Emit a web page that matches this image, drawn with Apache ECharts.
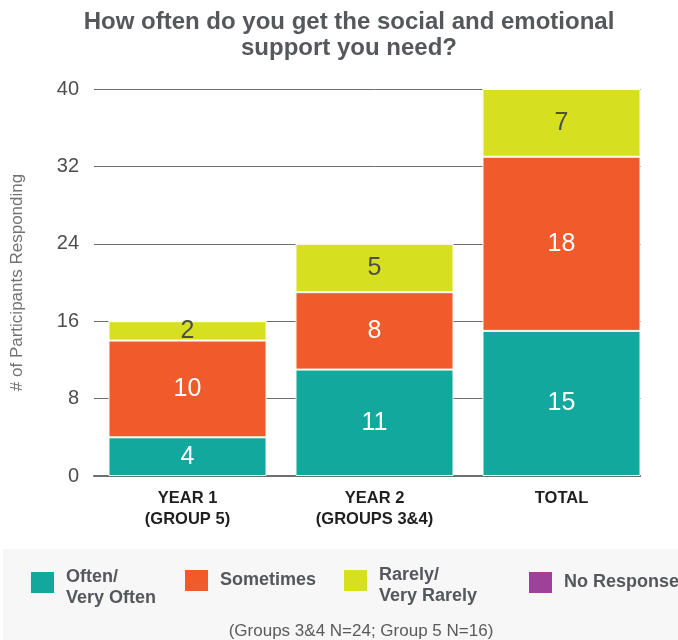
<!DOCTYPE html>
<html>
<head>
<meta charset="utf-8">
<script src="https://cdn.jsdelivr.net/npm/echarts@6/dist/echarts.min.js"></script>
<style>
  html, body { margin: 0; padding: 0; background: #ffffff; }
  #chart { width: 678px; height: 640px; }
</style>
</head>
<body>
<div id="chart"></div>
<script>
// Survey responses: how often participants get the support they need
const categories = ['YEAR 1\n(GROUP 5)', 'YEAR 2\n(GROUPS 3&4)', 'TOTAL'];
const oftenValues = [4, 11, 15];
const sometimesValues = [10, 8, 18];
const rarelyValues = [2, 5, 7];
const noResponseValues = [0, 0, 0];
const yTicks = [0, 8, 16, 24, 32, 40];

const FONT = 'Liberation Sans';
const TEXT_DARK = '#55575b';

const seriesDefs = [
  { name: 'Often/\nVery Often', data: oftenValues, color: '#13a89e', labelColor: '#ffffff' },
  { name: 'Sometimes', data: sometimesValues, color: '#f15a2b', labelColor: '#ffffff' },
  { name: 'Rarely/\nVery Rarely', data: rarelyValues, color: '#d7df21', labelColor: '#4d4d4f' },
  { name: 'No Response', data: noResponseValues, color: '#9e4199', labelColor: '#ffffff' }
];

// Two-line legend entries keep their swatch level with the first line:
// the swatch sits in the top 21px of a 31px-tall icon box.
const SWATCH_TALL = 'path://M0,0L23,0L23,21L0,21Z M0,31L23,31';
const SWATCH = 'rect';
const legendLefts = [31, 185, 344, 529];
const legendTops = [566.5, 570, 564.5, 572];
const legendIcons = [SWATCH_TALL, SWATCH, SWATCH_TALL, SWATCH];
const legendIconHeights = [31, 21, 31, 21];

const chart = echarts.init(document.getElementById('chart'), null, { renderer: 'canvas' });

chart.setOption({
  animation: false,
  backgroundColor: '#ffffff',
  title: [
    {
      text: 'How often do you get the social and emotional\nsupport you need?',
      left: 344,
      textAlign: 'center',
      top: 4,
      textStyle: { fontFamily: FONT, fontSize: 24, fontWeight: 'bold', color: TEXT_DARK, lineHeight: 26 }
    },
    {
      text: '(Groups 3&4 N=24; Group 5 N=16)',
      left: 356,
      textAlign: 'center',
      top: 618,
      textStyle: { fontFamily: FONT, fontSize: 17, fontWeight: 'normal', color: '#5a5a5c' }
    }
  ],
  graphic: [
    // grey band behind the legend and footnote
    {
      type: 'rect',
      z: -10,
      shape: { x: 3, y: 549, width: 675, height: 91 },
      style: { fill: '#f7f7f7' }
    },
    // gridlines and baseline stop at the right edge of the last bar
    {
      type: 'rect',
      z: 100,
      shape: { x: 641, y: 80, width: 37, height: 402 },
      style: { fill: '#ffffff' }
    }
  ],
  legend: seriesDefs.map((s, i) => ({
    data: [s.name],
    left: legendLefts[i],
    top: legendTops[i],
    padding: 0,
    icon: legendIcons[i],
    itemWidth: 23,
    itemHeight: legendIconHeights[i],
    itemGap: 0,
    selectedMode: false,
    itemStyle: { borderWidth: 0 },
    textStyle: {
      fontFamily: FONT, fontSize: 18, fontWeight: 'bold', color: TEXT_DARK,
      lineHeight: 21, padding: [0, 0, 0, 7]
    }
  })),
  grid: { left: 94, right: 23, top: 89, bottom: 164 },
  xAxis: {
    type: 'category',
    data: categories,
    axisLine: { lineStyle: { color: '#6d6e71', width: 2 } },
    axisTick: { show: false },
    axisLabel: {
      fontFamily: FONT, fontSize: 16.5, fontWeight: 'bold', color: '#1f1f1f',
      lineHeight: 21, margin: 12
    }
  },
  yAxis: {
    type: 'value',
    min: yTicks[0],
    max: yTicks[yTicks.length - 1],
    interval: 8,
    name: '# of Participants Responding',
    nameLocation: 'middle',
    nameRotate: 90,
    nameGap: 68,
    nameTextStyle: { fontFamily: FONT, fontSize: 17, color: '#707174' },
    axisLine: { show: false },
    axisTick: { show: false },
    axisLabel: { fontFamily: FONT, fontSize: 20, color: '#4d4d4f', margin: 15 },
    splitLine: { lineStyle: { color: '#6d6e71', width: 1 } }
  },
  series: seriesDefs.map(s => ({
    name: s.name,
    type: 'bar',
    stack: 'total',
    barWidth: 158,
    data: s.data,
    itemStyle: { color: s.color, borderColor: '#fbfbf0', borderWidth: 1 },
    label: {
      show: true,
      position: 'inside',
      fontFamily: FONT,
      fontSize: 25,
      color: s.labelColor,
      formatter: p => (p.value > 0 ? String(p.value) : '')
    }
  }))
});
</script>
</body>
</html>
